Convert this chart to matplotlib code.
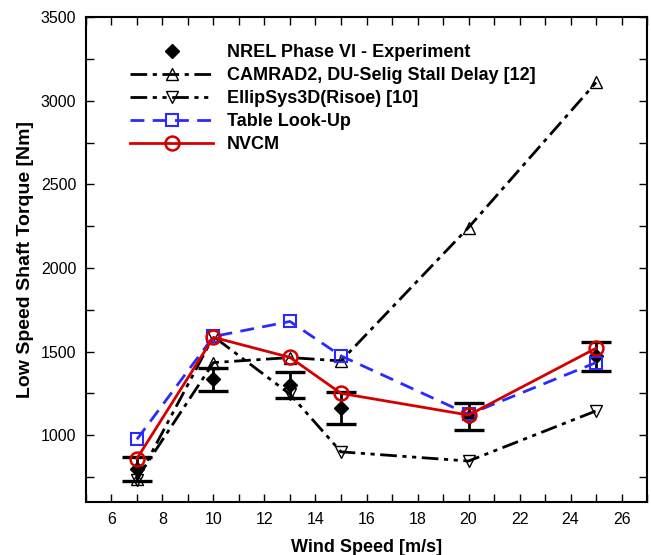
import matplotlib
matplotlib.use('Agg')
import matplotlib.pyplot as plt

plt.rcParams['font.family'] = ['Liberation Sans', 'DejaVu Sans']

wind = [7, 10, 13, 15, 20, 25]

# measured torque with error bars
exp_torque = [795, 1334, 1300, 1163, 1110, 1472]
exp_err = [72, 70, 75, 97, 80, 88]

camrad = [740, 1434, 1464, 1444, 2242, 3110]
ellipsys = [730, 1590, 1245, 900, 845, 1145]
table = [975, 1590, 1680, 1474, 1124, 1434]
nvcm = [860, 1585, 1465, 1250, 1120, 1520]

fig = plt.figure(figsize=(6.51, 5.55), dpi=100)
ax = fig.add_axes([0.132, 0.0955, 0.862, 0.8735])

ax.errorbar(wind, exp_torque, yerr=exp_err, fmt='none', ecolor='black',
            elinewidth=2, capsize=11, capthick=2.4, zorder=2)
ax.plot(wind, exp_torque, ls='none', marker='D', color='black', ms=7,
        label='NREL Phase VI - Experiment', zorder=3)

ax.plot(wind, camrad, color='black', lw=2, ls=(0, (6, 2, 1.5, 2)),
        marker='^', ms=8, mfc='none', mew=1,
        label='CAMRAD2, DU-Selig Stall Delay [12]', zorder=3)
ax.plot(wind, ellipsys, color='black', lw=2, ls=(0, (6, 2, 1.5, 2, 1.5, 2)),
        marker='v', ms=8, mfc='none', mew=1,
        label='EllipSys3D(Risoe) [10]', zorder=3)
ax.plot(wind, table, color='#2a2aff', lw=2, ls=(0, (5, 3)),
        marker='s', ms=8, mfc='none', mew=1.5,
        label='Table Look-Up', zorder=4)
ax.plot(wind, nvcm, color='#d40000', lw=2,
        marker='o', ms=10, mfc='none', mew=1.8,
        label='NVCM', zorder=5)

ax.set_xlim(5, 27)
ax.set_ylim(600, 3500)
ax.set_xticks(range(6, 27, 2))
ax.set_xticks(range(5, 28), minor=True)
ax.set_yticks(range(1000, 3501, 500))
ax.set_yticks(range(750, 3501, 250), minor=True)
ax.tick_params(which='both', direction='in', top=True, right=True,
               labelsize=11.5, width=1, pad=7)
ax.tick_params(which='major', length=6)
ax.tick_params(which='minor', length=6)
for s in ax.spines.values():
    s.set_linewidth(1.5)

ax.set_xlabel('Wind Speed [m/s]', fontsize=13, fontweight='bold', labelpad=9)
ax.set_ylabel('Low Speed Shaft Torque [Nm]', fontsize=14, fontweight='bold')
ax.yaxis.set_label_coords(-0.093, 0.5)

leg = ax.legend(loc='upper left', bbox_to_anchor=(0.05, 0.978), frameon=False,
                prop={'size': 13, 'weight': 'bold'}, handlelength=4.6,
                handletextpad=0.75, labelspacing=0.33)

fig.savefig('out.png', dpi=100)
